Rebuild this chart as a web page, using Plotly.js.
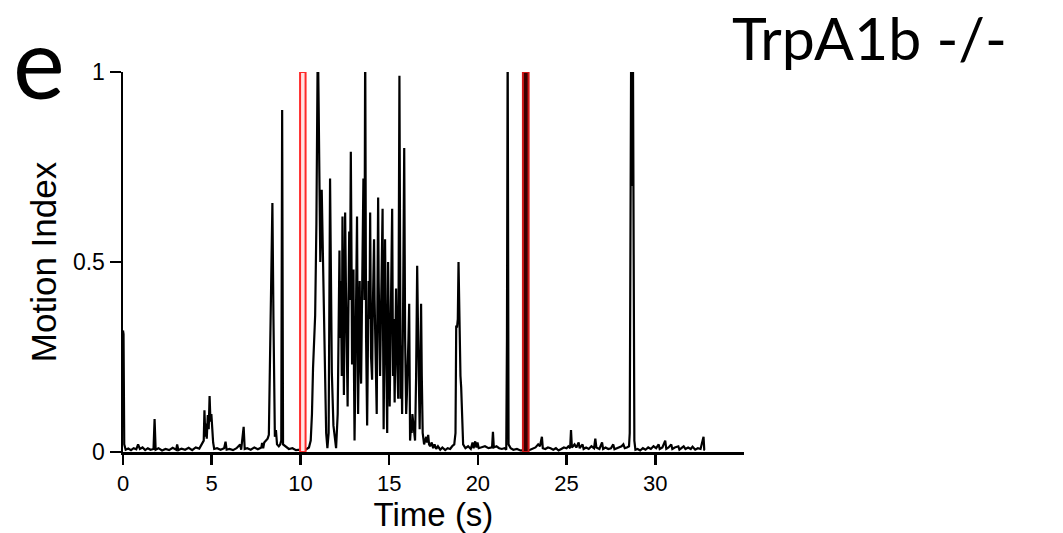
<!DOCTYPE html>
<html>
<head>
<meta charset="utf-8">
<script src="https://cdn.plot.ly/plotly-3.0.1.min.js"></script>
<style>html,body{margin:0;padding:0;background:#fff}</style>
</head>
<body>
<div id="chart" style="width:1063px;height:533px"></div>
<script>
// Time (s) and motion index
const time = [
0.00,0.03,0.07,0.15,0.30,0.45,0.60,0.75,0.85,0.95,1.10,1.25,1.40,1.55,1.72,1.78,1.84,2.00,2.20,2.40,2.60,2.80,3.00,3.05,3.12,3.30,3.50,3.70,3.90,4.10,4.30,4.45,4.55,4.59,4.64,4.68,4.72,4.78,4.83,4.88,4.93,4.98,5.02,5.08,5.14,5.30,5.50,5.70,5.78,5.84,6.00,6.20,6.40,6.60,6.66,6.80,6.86,7.00,7.20,7.40,7.60,7.80,7.84,7.90,7.96,8.05,8.15,8.22,8.30,8.38,8.42,8.48,8.56,8.62,8.68,8.78,8.86,8.92,8.97,9.02,9.15,9.35,9.55,9.75,10.00,10.20,10.35,10.48,10.58,10.65,10.71,10.77,10.83,10.90,10.98,11.03,11.07,11.12,11.20,11.25,11.30,11.39,11.45,11.52,11.59,11.67,11.72,11.77,11.86,11.94,12.01,12.10,12.14,12.20,12.24,12.28,12.33,12.37,12.41,12.45,12.49,12.52,12.56,12.61,12.66,12.70,12.75,12.79,12.84,12.88,12.91,12.95,12.99,13.02,13.05,13.08,13.11,13.15,13.19,13.22,13.25,13.30,13.34,13.38,13.42,13.46,13.51,13.55,13.58,13.61,13.65,13.70,13.76,13.80,13.84,13.89,13.93,13.98,14.04,14.07,14.10,14.15,14.18,14.21,14.26,14.30,14.34,14.38,14.41,14.44,14.49,14.53,14.58,14.63,14.66,14.69,14.73,14.77,14.80,14.83,14.89,14.94,14.98,15.03,15.08,15.12,15.17,15.22,15.26,15.31,15.35,15.39,15.45,15.51,15.58,15.65,15.69,15.73,15.79,15.85,15.90,15.96,16.00,16.04,16.09,16.13,16.18,16.23,16.27,16.31,16.35,16.40,16.46,16.52,16.58,16.62,16.66,16.72,16.76,16.80,16.84,16.89,16.97,17.03,17.09,17.14,17.20,17.25,17.31,17.40,17.48,17.56,17.65,17.75,17.88,18.00,18.16,18.30,18.44,18.55,18.67,18.74,18.78,18.83,18.87,18.91,18.95,18.98,19.02,19.06,19.12,19.17,19.30,19.45,19.60,19.70,19.76,19.85,19.92,19.98,20.05,20.20,20.40,20.60,20.80,20.85,20.90,21.05,21.20,21.35,21.50,21.60,21.64,21.68,21.73,21.85,22.00,22.20,22.40,22.60,22.80,22.95,23.10,23.25,23.40,23.50,23.61,23.66,23.80,23.95,24.10,24.25,24.40,24.55,24.70,24.85,25.00,25.10,25.20,25.25,25.30,25.45,25.55,25.68,25.74,25.90,25.96,26.10,26.25,26.40,26.55,26.62,26.68,26.85,27.00,27.06,27.20,27.35,27.50,27.63,27.70,27.85,28.00,28.10,28.20,28.28,28.40,28.52,28.56,28.62,28.65,28.69,28.73,28.82,28.88,29.00,29.15,29.30,29.45,29.60,29.75,29.90,30.05,30.19,30.25,30.40,30.56,30.62,30.75,30.90,30.96,31.10,31.30,31.36,31.50,31.60,31.70,31.85,32.00,32.10,32.25,32.40,32.55,32.72,32.76,32.80
];
const motion = [
0.32,0.31,0.02,0.006,0.009,0.005,0.01,0.007,0.02,0.008,0.012,0.005,0.01,0.006,0.008,0.087,0.006,0.01,0.004,0.008,0.005,0.011,0.006,0.02,0.005,0.009,0.006,0.011,0.005,0.012,0.009,0.02,0.03,0.11,0.04,0.075,0.035,0.097,0.06,0.147,0.08,0.1,0.05,0.025,0.008,0.01,0.006,0.01,0.027,0.006,0.008,0.005,0.01,0.02,0.006,0.066,0.008,0.01,0.006,0.012,0.007,0.012,0.024,0.01,0.025,0.03,0.035,0.045,0.3,0.5,0.655,0.35,0.04,0.058,0.02,0.015,0.02,0.03,0.9,0.02,0.015,0.008,0.01,0.005,0.006,0.004,0.008,0.012,0.03,0.1,0.22,0.3,0.36,0.6,1.1,0.9,0.76,0.5,0.69,0.55,0.37,0.15,0.05,0.01,0.05,0.72,0.4,0.21,0.07,0.03,0.01,0.1,0.35,0.53,0.3,0.45,0.2,0.62,0.35,0.15,0.4,0.63,0.45,0.27,0.12,0.35,0.58,0.4,0.79,0.5,0.23,0.35,0.48,0.2,0.03,0.15,0.3,0.42,0.62,0.35,0.1,0.3,0.45,0.25,0.18,0.35,0.5,0.72,0.55,0.4,1.1,0.3,0.07,0.25,0.45,0.35,0.63,0.25,0.19,0.35,0.45,0.56,0.4,0.3,0.2,0.1,0.4,0.67,0.45,0.35,0.2,0.33,0.45,0.64,0.3,0.06,0.3,0.56,0.4,0.2,0.05,0.5,0.3,0.12,0.3,0.45,0.64,0.2,0.35,0.13,0.3,0.43,0.25,0.14,0.99,0.14,0.28,0.1,0.4,0.8,0.3,0.1,0.15,0.2,0.3,0.39,0.03,0.07,0.05,0.1,0.08,0.06,0.03,0.2,0.49,0.35,0.2,0.06,0.2,0.39,0.2,0.05,0.02,0.03,0.04,0.025,0.045,0.02,0.015,0.025,0.01,0.02,0.008,0.015,0.006,0.012,0.005,0.01,0.008,0.015,0.02,0.05,0.33,0.33,0.35,0.5,0.35,0.3,0.2,0.17,0.05,0.02,0.01,0.015,0.008,0.025,0.01,0.028,0.012,0.025,0.01,0.012,0.015,0.01,0.012,0.053,0.012,0.015,0.01,0.008,0.01,0.006,0.3,1.1,0.02,0.01,0.006,0.008,0.004,0.005,0.004,0.006,0.01,0.012,0.02,0.015,0.04,0.01,0.008,0.012,0.01,0.006,0.01,0.004,0.008,0.012,0.01,0.015,0.01,0.058,0.012,0.02,0.012,0.025,0.01,0.02,0.008,0.012,0.008,0.015,0.01,0.035,0.012,0.008,0.025,0.008,0.012,0.008,0.01,0.02,0.007,0.01,0.012,0.015,0.02,0.01,0.012,0.015,0.05,0.66,1.2,0.7,1.2,0.03,0.006,0.008,0.004,0.01,0.006,0.012,0.008,0.015,0.01,0.02,0.008,0.012,0.03,0.008,0.012,0.02,0.008,0.012,0.015,0.006,0.012,0.015,0.008,0.012,0.008,0.014,0.006,0.01,0.008,0.04,0.006,0.005
];
// Stimulus events (s)
const eventStart = [9.98, 22.54];
const eventEnd = [10.29, 22.86];
const eventLine = ['#ff2a2a', '#d01818'];
const eventFill = ['#ffe4e4', '#3a0000'];

const xTicks = [0, 5, 10, 15, 20, 25, 30];
const xTickLabels = ['0', '5', '10', '15', '20', '25', '30'];
const yTicks = [0, 0.5, 1];
const yTickLabels = ['0', '0.5', '1'];

const helv = 'Liberation Sans, Arial, Helvetica, sans-serif';
const gill = 'Lato, Noto Sans, sans-serif';

const shapes = eventStart.map((s, i) => ({
  type: 'rect', xref: 'x', yref: 'y',
  x0: s, x1: eventEnd[i], y0: 0, y1: 1,
  line: {color: eventLine[i], width: 2},
  fillcolor: eventFill[i], layer: 'above'
}));

const trace = {
  x: time, y: motion, type: 'scatter', mode: 'lines',
  line: {color: '#000', width: 2.2},
  hoverinfo: 'skip'
};

const layout = {
  width: 1063, height: 533,
  margin: {l: 123, r: 319, t: 72, b: 81, pad: 0},
  paper_bgcolor: '#fff', plot_bgcolor: '#fff',
  showlegend: false,
  font: {family: helv, color: '#000'},
  xaxis: {
    range: [0, 35], showgrid: false, zeroline: false,
    showline: true, linecolor: '#000', linewidth: 3,
    ticks: 'outside', ticklen: 10, tickwidth: 2.5, tickcolor: '#000',
    tickmode: 'array', tickvals: xTicks, ticktext: xTickLabels,
    tickfont: {size: 22, family: helv},
    title: {text: 'Time (s)', font: {size: 33, family: helv}, standoff: 3},
    automargin: false
  },
  yaxis: {
    range: [0, 1], showgrid: false, zeroline: false,
    showline: true, linecolor: '#000', linewidth: 2.5,
    ticks: 'outside', ticklen: 11, tickwidth: 2.5, tickcolor: '#000',
    tickmode: 'array', tickvals: yTicks, ticktext: yTickLabels,
    tickfont: {size: 23, family: helv},
    title: {text: 'Motion Index', font: {size: 35, family: helv}, standoff: 6},
    automargin: false
  },
  shapes: shapes,
  annotations: [
    {text: 'e', xref: 'paper', yref: 'paper', x: -0.18, y: 1.03,
     xanchor: 'left', yanchor: 'middle', showarrow: false,
     font: {size: 98, family: gill, color: '#000'}},
    {text: 'TrpA1b -/-', xref: 'paper', yref: 'paper', x: 0.977, y: 1.09,
     xanchor: 'left', yanchor: 'middle', showarrow: false,
     font: {size: 59, family: gill, color: '#000'}}
  ]
};

Plotly.newPlot('chart', [trace], layout, {displayModeBar: false, staticPlot: true});
</script>
</body>
</html>
